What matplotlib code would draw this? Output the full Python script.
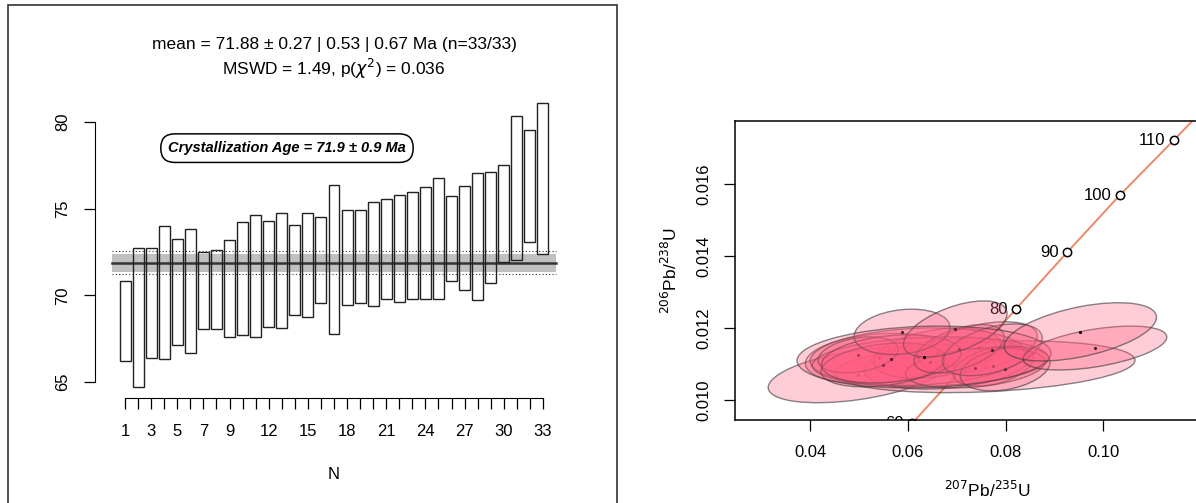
import numpy as np
import matplotlib.pyplot as plt
from matplotlib.patches import Rectangle, Circle
from matplotlib.transforms import Affine2D

plt.rcParams['font.family'] = ['Liberation Sans', 'DejaVu Sans']

# ---- left panel: weighted mean age bars (Ma)
age_top = [70.82, 72.76, 72.72, 74.02, 73.24, 73.85, 72.53, 72.64, 73.20, 74.21,
           74.66, 74.27, 74.75, 74.06, 74.75, 74.54, 76.38, 74.94, 74.94, 75.42,
           75.57, 75.77, 75.96, 76.28, 76.76, 75.75, 76.30, 77.05, 77.11, 77.55,
           80.38, 79.54, 81.09]
age_bot = [66.19, 64.73, 66.36, 66.32, 67.15, 66.70, 68.08, 68.08, 67.62, 67.74,
           67.61, 68.16, 68.12, 68.85, 68.75, 69.54, 67.76, 69.43, 69.54, 69.39,
           69.77, 69.64, 69.81, 69.79, 69.81, 70.86, 70.34, 69.75, 70.71, 71.95,
           72.07, 73.07, 72.39]
n_labels = [1, 3, 5, 7, 9, 12, 15, 18, 21, 24, 27, 30, 33]
mean_age = 71.88
err_band = 0.53
err_dot = 0.67

# ---- right panel: concordia markers and analyses
conc_age = [60, 70, 80, 90, 100, 110]
conc_x = [0.0609, 0.0714, 0.0821, 0.0926, 0.1034, 0.1144]
conc_y = [0.00935, 0.01092, 0.01252, 0.01410, 0.01569, 0.01721]
line_x = [0.0505] + conc_x + [0.1256]
line_y = [0.00779] + conc_y + [0.01879]

# x, y, sx, sy, rho of each analysis (drawn in this order)
ell_x = [0.0498, 0.0758, 0.0680, 0.0540, 0.0660, 0.0745, 0.0620, 0.0646, 0.0498,
         0.0775, 0.0738, 0.0799, 0.0549, 0.0566, 0.0705, 0.0773, 0.0588, 0.0697,
         0.0633, 0.0983, 0.0953]
ell_y = [0.01069, 0.01092, 0.01100, 0.01115, 0.01130, 0.01145, 0.01120, 0.01106,
         0.01125, 0.01094, 0.01089, 0.01086, 0.01097, 0.01114, 0.01142, 0.01139,
         0.01189, 0.01197, 0.01119, 0.01144, 0.01189]
ell_sx = [0.0184, 0.0307, 0.0170, 0.0150, 0.0130, 0.0120, 0.0220, 0.0242, 0.0082,
          0.0082, 0.0143, 0.0092, 0.0127, 0.0143, 0.0092, 0.0102, 0.0098, 0.0106,
          0.0260, 0.0147, 0.0156]
ell_sy = [0.00077, 0.00072, 0.00070, 0.00070, 0.00070, 0.00072, 0.00080, 0.00069,
          0.00050, 0.00056, 0.00056, 0.00061, 0.00061, 0.00067, 0.00067, 0.00072,
          0.00063, 0.00078, 0.00086, 0.00061, 0.00081]
ell_rho = [0.45, 0.25, 0.25, 0.2, 0.35, 0.45, 0.15, 0.15, 0.3, 0.4, 0.3, 0.3, 0.3,
           0.25, 0.5, 0.45, 0.2, 0.55, 0.12, 0.5, 0.5]

fig = plt.figure(figsize=(11.96, 5.03), dpi=100)

# frame round the left panel
fig.add_artist(Rectangle((8 / 1196, -0.05), 609 / 1196, 1 - 5 / 503 + 0.05,
                         transform=fig.transFigure, fill=False, lw=1.2, ec='#333333'))

ax = fig.add_axes([95 / 1196, 1 - 398 / 503, 478 / 1196, 306 / 503])
n = len(age_top)
idx = np.arange(1, n + 1)
ax.fill_between([0, n + 1], mean_age - err_band, mean_age + err_band,
                color='#c0c0c0', lw=0, zorder=1)
ax.plot([0, n + 1], [mean_age, mean_age], color='#333333', lw=1.8, zorder=2)
for s in (-1, 1):
    ax.plot([0, n + 1], [mean_age + s * err_dot] * 2, color='#333333', lw=0.8,
            ls=(0, (1, 2)), zorder=2)
for i, t, b in zip(idx, age_top, age_bot):
    ax.add_patch(Rectangle((i - 0.42, b), 0.84, t - b, fill=False, ec='#222222',
                           lw=1.0, zorder=3))
ax.set_xlim(-1.3, n + 2.3)
ax.set_ylim(64.08, 81.74)
for sp in ('top', 'right'):
    ax.spines[sp].set_visible(False)
ax.spines['bottom'].set_bounds(1, n)
ax.spines['left'].set_bounds(65, 80)
ax.set_xticks(idx)
ax.set_xticklabels([str(i) if i in n_labels else '' for i in idx])
ax.set_yticks([65, 70, 75, 80])
ax.tick_params(axis='both', length=8, width=0.9, labelsize=12)
ax.tick_params(axis='x', pad=11)
ax.tick_params(axis='y', pad=10)
for lb in ax.get_yticklabels():
    lb.set_rotation(90)
    lb.set_va('center')
ax.set_xlabel('N', fontsize=12, labelpad=20)
ax.set_title('mean = 71.88 \u00b1 0.27 | 0.53 | 0.67 Ma (n=33/33)\n'
             r'MSWD = 1.49, p($\chi^2$) = 0.036', fontsize=12.5, pad=12,
             linespacing=1.3)
ax.text(13.4, 78.5, 'Crystallization Age = 71.9 \u00b1 0.9 Ma', ha='center',
        va='center', fontsize=10.5, fontweight='bold', fontstyle='italic',
        bbox=dict(boxstyle='round,pad=0.5,rounding_size=0.95', fc='white',
                  ec='black', lw=1.1), zorder=5)

# ---- right panel
ax2 = fig.add_axes([735 / 1196, 1 - 420 / 503, 505 / 1196, 299 / 503])
ax2.set_xlim(0.0246, 0.1280)
ax2.set_ylim(0.00944, 0.01775)
ax2.plot(line_x, line_y, color='#ec8868', lw=1.4, zorder=1)
ax2.plot(conc_x, conc_y, 'o', mfc='white', mec='black', mew=1.1, ms=6, zorder=2)
for a, cx, cy in zip(conc_age, conc_x, conc_y):
    ax2.annotate(str(a), (cx, cy), xytext=(-6, 0), textcoords='offset points',
                 ha='right', va='center', fontsize=12, zorder=2,
                 annotation_clip=False, clip_on=True)
z = 3
for x, y, sx, sy, r in zip(ell_x, ell_y, ell_sx, ell_sy, ell_rho):
    tr = Affine2D(np.array([[sx, 0, x], [sy * r, sy * np.sqrt(1 - r * r), y],
                            [0, 0, 1]])) + ax2.transData
    ax2.add_patch(Circle((0, 0), 1, transform=tr, fc=(1, 0.36, 0.5, 0.3),
                         ec=(0.22, 0.22, 0.22, 0.6), lw=1.0, zorder=z))
    ax2.plot(x, y, '.', color='black', ms=2.5, zorder=z)
    z += 1
ax2.set_xticks([0.04, 0.06, 0.08, 0.10])
ax2.set_xticklabels(['0.04', '0.06', '0.08', '0.10'])
ax2.set_yticks([0.010, 0.012, 0.014, 0.016])
ax2.set_yticklabels(['0.010', '0.012', '0.014', '0.016'])
ax2.tick_params(axis='both', length=8, width=0.9, labelsize=12)
ax2.tick_params(axis='x', pad=10)
ax2.tick_params(axis='y', pad=9)
for lb in ax2.get_yticklabels():
    lb.set_rotation(90)
    lb.set_va('center')
for sp in ax2.spines.values():
    sp.set_linewidth(1.1)
ax2.set_xlabel(r'$^{207}$Pb/$^{235}$U', fontsize=12.5, labelpad=14)
ax2.set_ylabel(r'$^{206}$Pb/$^{238}$U', fontsize=12.5, labelpad=12)

fig.savefig('out.png', dpi=100)
